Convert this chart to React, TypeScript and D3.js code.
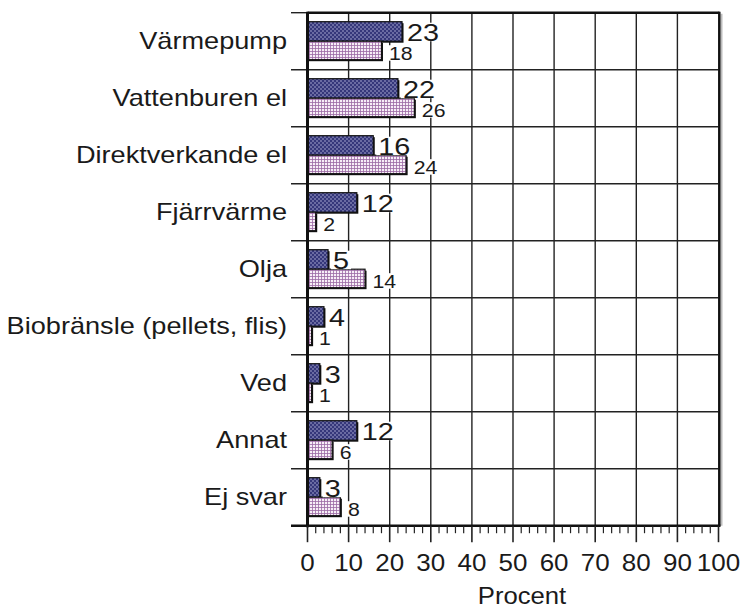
import React from "react";
import * as d3 from "d3";

const categories = [
  "Värmepump",
  "Vattenburen el",
  "Direktverkande el",
  "Fjärrvärme",
  "Olja",
  "Biobränsle (pellets, flis)",
  "Ved",
  "Annat",
  "Ej svar",
];
const seriesA = [23, 22, 16, 12, 5, 4, 3, 12, 3];
const seriesB = [18, 26, 24, 2, 14, 1, 1, 6, 8];
const xTicks = [0, 10, 20, 30, 40, 50, 60, 70, 80, 90, 100];
const xTitle = "Procent";

const FONT = "'Liberation Sans', Arial, Helvetica, sans-serif";

function SText({ x, y, sx, size, anchor, children }: any) {
  return (
    <text
      transform={`translate(${x},${y}) scale(${sx},1)`}
      fontSize={size}
      textAnchor={anchor || "start"}
      fontFamily={FONT}
      fill="#1a1a1a"
    >
      {children}
    </text>
  );
}

export default function App() {
  const W = 742,
    H = 607;
  const x = d3.scaleLinear().domain([0, 100]).range([307.5, 718.5]);
  const y = d3.scaleBand<string>().domain(categories).range([12.7, 525.7]).padding(0);
  const bw = y.bandwidth();
  const top = 12.7,
    bottom = 525.7;
  const barH = 19.5;
  const off = 9;
  const minor = d3.range(0, 101, 2);
  const boundaries = d3.range(0, categories.length + 1).map((i) => top + i * bw);

  return (
    <svg width={W} height={H} style={{ position: "absolute", left: 0, top: 0, background: "#fff" }}>
      <defs>
        <pattern id="dots" width="4" height="4" patternUnits="userSpaceOnUse">
          <rect width="4" height="4" fill="#35377a" />
          <rect x="0.4" y="0.4" width="1.2" height="1.2" fill="#c8c8e8" />
          <rect x="2.4" y="2.4" width="1.2" height="1.2" fill="#c8c8e8" />
        </pattern>
        <pattern id="grid" width="3" height="3" patternUnits="userSpaceOnUse">
          <rect width="3" height="3" fill="#f7eef7" />
          <path d="M0 0.5H3 M0.5 0V3" stroke="#9c6aa4" strokeWidth="0.8" />
        </pattern>
      </defs>

      {/* vertical gridlines */}
      {xTicks.slice(1, -1).map((t) => (
        <line key={"vg" + t} x1={x(t)} x2={x(t)} y1={top} y2={bottom} stroke="#222" strokeWidth={1.4} />
      ))}
      {/* horizontal gridlines */}
      {boundaries.slice(1, -1).map((b, i) => (
        <line key={"hg" + i} x1={291} x2={x(100)} y1={b} y2={b} stroke="#222" strokeWidth={1.4} />
      ))}
      {/* left ticks at top */}
      <line x1={291} x2={x(0)} y1={top} y2={top} stroke="#222" strokeWidth={1.4} />

      {/* bars */}
      {categories.map((c, i) => {
        const y0 = (y(c) as number) + off;
        const a = seriesA[i];
        const b = seriesB[i];
        const xa = x(a);
        const xb = x(b);
        const tA = String(a);
        const tB = String(b);
        const wA = tA.length * 24 * 0.556 * 1.2 + 4;
        const wB = tB.length * 18.5 * 0.556 * 1.15 + 4;
        return (
          <g key={c}>
            <rect x={x(0) + 1.5} y={y0 + 1.5} width={xa - x(0)} height={barH} fill="#111" />
            <rect x={x(0)} y={y0} width={xa - x(0)} height={barH} fill="url(#dots)" stroke="#111" strokeWidth={1.2} />
            <rect x={x(0) + 1.5} y={y0 + barH + 1.5} width={xb - x(0)} height={barH - 1} fill="#111" />
            <rect x={x(0)} y={y0 + barH} width={xb - x(0)} height={barH - 1} fill="url(#grid)" stroke="#111" strokeWidth={1.2} />
            <rect x={xa + 3} y={y0 + 1} width={wA} height={barH - 1} fill="#fff" />
            <SText x={xa + 5} y={y0 + barH} sx={1.2} size={24}>
              {tA}
            </SText>
            <rect x={xb + 6} y={y0 + barH + 4} width={wB} height={barH - 4} fill="#fff" />
            <SText x={xb + 7.5} y={y0 + 2 * barH - 0.5} sx={1.15} size={18.5}>
              {tB}
            </SText>
          </g>
        );
      })}

      {/* top border */}
      <line x1={x(0)} x2={x(100) + 1} y1={top} y2={top} stroke="#111" strokeWidth={2.5} />
      {/* right border with shadow */}
      <line x1={x(100) + 3} x2={x(100) + 3} y1={top + 1} y2={bottom} stroke="#bbb" strokeWidth={2} />
      <line x1={x(100) + 0.8} x2={x(100) + 0.8} y1={top - 1} y2={bottom} stroke="#111" strokeWidth={2.5} />
      {/* y axis */}
      <line x1={x(0)} x2={x(0)} y1={top - 1} y2={bottom + 1.5} stroke="#111" strokeWidth={3} />
      {/* x axis */}
      <line x1={291} x2={x(100) + 2} y1={bottom} y2={bottom} stroke="#111" strokeWidth={2.5} />
      {minor.map((t) => (
        <line
          key={"t" + t}
          x1={x(t)}
          x2={x(t)}
          y1={bottom}
          y2={bottom + (t % 10 === 0 ? 16.5 : 7.5)}
          stroke="#222"
          strokeWidth={t % 10 === 0 ? 1.6 : 1.2}
        />
      ))}
      {xTicks.map((t) => (
        <SText key={"l" + t} x={x(t)} y={571} sx={1.13} size={23} anchor="middle">
          {String(t)}
        </SText>
      ))}
      <SText x={522} y={603.5} sx={1.07} size={24} anchor="middle">
        {xTitle}
      </SText>

      {/* category labels */}
      {categories.map((c) => (
        <SText key={"c" + c} x={287} y={(y(c) as number) + bw / 2 + 7.8} sx={1.18} size={23} anchor="end">
          {c}
        </SText>
      ))}
    </svg>
  );
}
